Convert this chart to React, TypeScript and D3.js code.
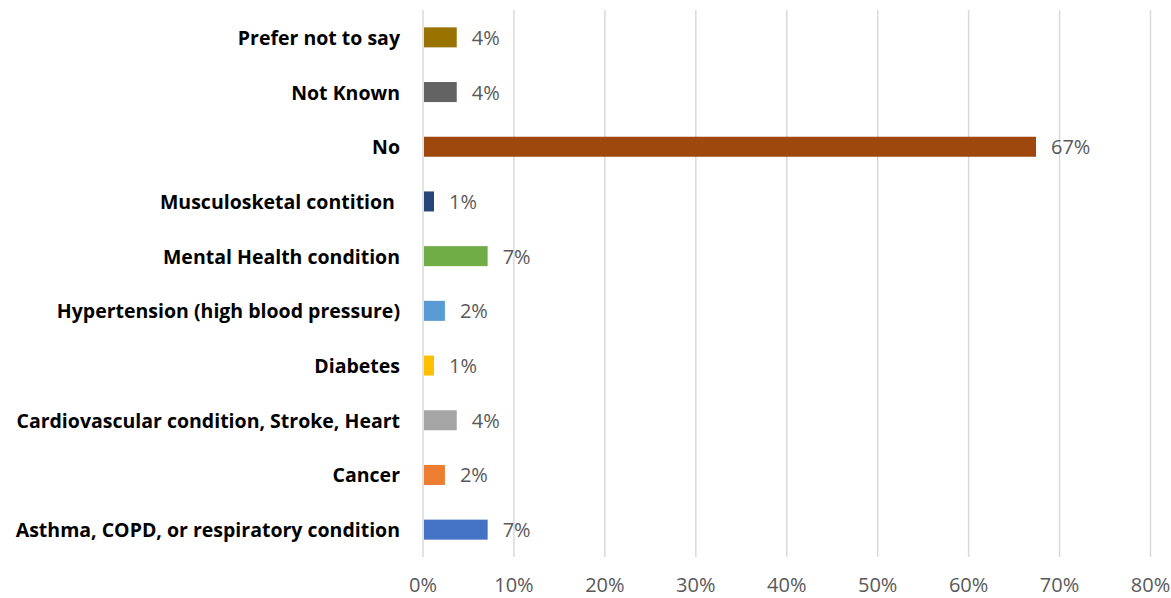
import React from "react";
import * as d3 from "d3";

// Health conditions reported, share of respondents
const categories = [
  "Prefer not to say",
  "Not Known",
  "No",
  "Musculosketal contition ",
  "Mental Health condition",
  "Hypertension (high blood pressure)",
  "Diabetes",
  "Cardiovascular condition, Stroke, Heart",
  "Cancer",
  "Asthma, COPD, or respiratory condition",
];
const values = [0.036, 0.036, 0.673, 0.011, 0.07, 0.023, 0.011, 0.036, 0.023, 0.07];
const barColors = [
  "#997300",
  "#636363",
  "#9E480E",
  "#264478",
  "#70AD47",
  "#5B9BD5",
  "#FFC000",
  "#A5A5A5",
  "#ED7D31",
  "#4472C4",
];
const xTicks = [0, 0.1, 0.2, 0.3, 0.4, 0.5, 0.6, 0.7, 0.8];

const W = 1171;
const H = 598;
const plot = { left: 423, right: 1150.5, top: 10, bottom: 557 };
const FONT = "'Open Sans', Lato, sans-serif";

export default function App() {
  const x = d3.scaleLinear().domain([0, 0.8]).range([plot.left, plot.right]);
  const y = d3
    .scaleBand<string>()
    .domain(categories)
    .range([plot.top, plot.bottom])
    .paddingInner(0.634)
    .paddingOuter(0.317);
  const pct = d3.format(".0%");

  return (
    <svg
      width={W}
      height={H}
      viewBox={`0 0 ${W} ${H}`}
      style={{ position: "fixed", left: 0, top: 0, background: "#fff" }}
    >
      <rect width={W} height={H} fill="#fff" />
      {/* vertical gridlines */}
      <g>
        {xTicks.map((t) => (
          <line
            key={t}
            x1={x(t)}
            x2={x(t)}
            y1={plot.top}
            y2={plot.bottom}
            stroke="#D9D9D9"
            strokeWidth={1.5}
          />
        ))}
      </g>
      {/* bars */}
      <g>
        {categories.map((c, i) => (
          <rect
            key={c}
            x={x(0) + 1}
            y={y(c)}
            width={x(values[i]) - x(0)}
            height={y.bandwidth()}
            fill={barColors[i]}
          />
        ))}
      </g>
      {/* value labels */}
      <g fontFamily={FONT} fontSize={20} fill="#595959">
        {categories.map((c, i) => (
          <text
            key={c}
            x={x(values[i]) + 16}
            y={(y(c) as number) + y.bandwidth() / 2}
            dominantBaseline="central"
          >
            {pct(values[i])}
          </text>
        ))}
      </g>
      {/* category labels */}
      <g fontFamily={FONT} fontSize={19.5} fontWeight={700} fill="#000" textAnchor="end">
        {categories.map((c) => (
          <text
            key={c}
            x={400}
            y={(y(c) as number) + y.bandwidth() / 2}
            dominantBaseline="central"
            style={{ whiteSpace: "pre" }}
          >
            {c}
          </text>
        ))}
      </g>
      {/* x axis tick labels */}
      <g fontFamily={FONT} fontSize={20} fill="#595959" textAnchor="middle">
        {xTicks.map((t) => (
          <text key={t} x={x(t)} y={591.5}>
            {pct(t)}
          </text>
        ))}
      </g>
    </svg>
  );
}
